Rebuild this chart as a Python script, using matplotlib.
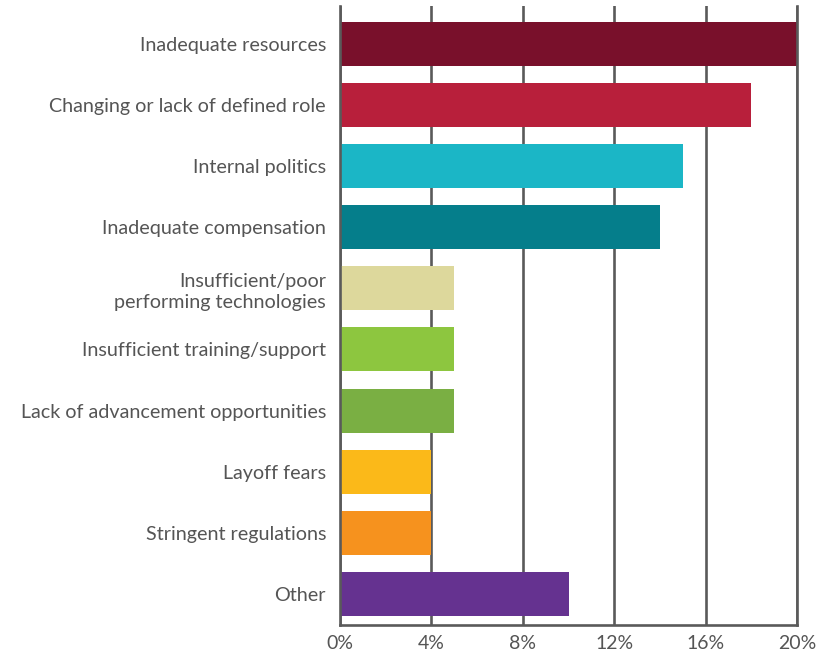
import matplotlib.pyplot as plt

# Share of respondents citing each challenge (%)
categories = [
    "Inadequate resources",
    "Changing or lack of defined role",
    "Internal politics",
    "Inadequate compensation",
    "Insufficient/poor\nperforming technologies",
    "Insufficient training/support",
    "Lack of advancement opportunities",
    "Layoff fears",
    "Stringent regulations",
    "Other",
]
values = [20, 18, 15, 14, 5, 5, 5, 4, 4, 10]
colors = ["#79102b", "#b81f3b", "#1bb6c6", "#057e8b", "#ddd89c",
          "#8dc63f", "#7aaf43", "#fbb919", "#f6921e", "#653290"]
xticks = [0, 4, 8, 12, 16, 20]

plt.rcParams['font.family'] = ['Lato', 'DejaVu Sans']
text_color = "#555555"
line_color = "#5a5a5a"

fig = plt.figure(figsize=(8.21, 6.52), dpi=100)
ax = fig.add_axes([0.4141, 0.0414, 0.9708 - 0.4141, 0.9908 - 0.0414])

y = list(range(len(categories)))
ax.barh(y, values, height=0.72, color=colors, zorder=2)

ax.set_xlim(0, 20)
ax.set_ylim(9.51, -0.62)
ax.set_yticks(y)
ax.set_yticklabels(categories, fontsize=14.2, color=text_color, linespacing=1.3)
ax.set_xticks(xticks)
ax.set_xticklabels(["%d%%" % t for t in xticks], fontsize=14, color=text_color)
ax.tick_params(axis='y', length=0, pad=10)
ax.tick_params(axis='x', length=0, pad=7)
for lbl in ax.get_yticklabels():
    lbl.set_horizontalalignment('right')
    lbl.set_multialignment('right')

ax.grid(axis='x', color=line_color, linewidth=1.9, zorder=0)
ax.set_axisbelow(True)
ax.spines['top'].set_visible(False)
for side in ['left', 'right', 'bottom']:
    ax.spines[side].set_color(line_color)
    ax.spines[side].set_linewidth(1.9)
    ax.spines[side].set_zorder(3)

fig.savefig("out.png", dpi=100)
